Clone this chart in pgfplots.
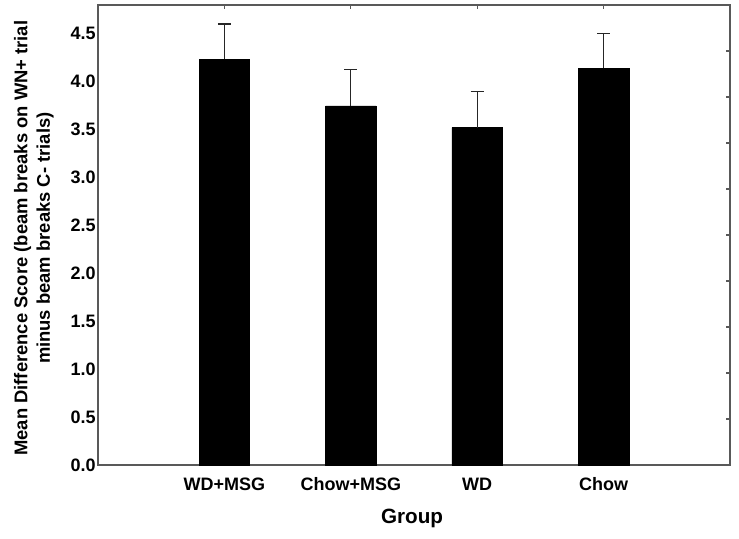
\documentclass[border=0pt]{standalone}
\usepackage{fontspec}
\setmainfont{Liberation Sans}
\usepackage{pgfplots}
\pgfplotsset{compat=1.18}
\begin{document}
\begin{tikzpicture}
\useasboundingbox (-73.5pt,-55.5pt) rectangle (480.75pt,348.75pt);
\begin{axis}[
  at={(0,0)}, anchor=south west,
  scale only axis, width=474pt, height=345pt,
  xmin=0, xmax=5, ymin=0, ymax=4.8,
  axis line style={draw=black!65, line width=0.9pt},
  xtick={1,2,3,4},
  xticklabels={WD+MSG,Chow+MSG,WD,Chow},
  xtick pos=right, xticklabel pos=left,
  tick align=inside, major tick length=3pt,
  xtick style={draw=black!65, line width=0.9pt},
  ytick={0,0.5,...,4.5},
  ytick style={draw=none},
  /pgf/number format/assume math mode=true,
  yticklabel style={/pgf/number format/fixed, /pgf/number format/fixed zerofill, /pgf/number format/precision=1, font=\bfseries\fontsize{13.5}{16}\selectfont, anchor=east, inner sep=1.5pt},
  xticklabel style={font=\bfseries\fontsize{13.5}{16}\selectfont, anchor=base, yshift=-18.75pt, inner sep=0pt},
  xlabel={Group},
  xlabel style={at={(axis description cs:0.497,0)}, anchor=base, yshift=-43.5pt, font=\bfseries\fontsize{15.5}{18}\selectfont, inner sep=0pt},
  ylabel={Mean Difference Score (beam breaks on WN+ trial\\minus beam breaks C- trials)},
  ylabel style={at={(axis description cs:-0.0696,0.493)}, anchor=south, rotate=0, align=center, font=\bfseries\fontsize{13.8}{17}\selectfont, inner sep=0pt},
  clip=false,
]
\addplot[ybar, bar width=0.4, fill=black, draw=black,
  error bars/.cd, y dir=plus, y explicit,
  error bar style={black!85, line width=1pt},
  error mark options={rotate=90, mark size=4.9pt, line width=1pt, black!85}]
  coordinates {
  (1,4.233) +- (0,0.367)
  (2,3.748) +- (0,0.377)
  (3,3.520) +- (0,0.374)
  (4,4.139) +- (0,0.366)
  };
\end{axis}
\begin{axis}[
  at={(0,0)}, anchor=south west,
  scale only axis, width=474pt, height=345pt,
  xmin=0, xmax=1, ymin=0, ymax=10,
  hide x axis,
  axis y line*=right,
  y axis line style={draw=none},
  ytick={1,2,...,9}, yticklabels={},
  tick align=inside, major tick length=3pt,
  ytick style={draw=black!65, line width=0.9pt},
]
\addplot[draw=none] coordinates {(0,0)};
\end{axis}
\end{tikzpicture}
\end{document}
